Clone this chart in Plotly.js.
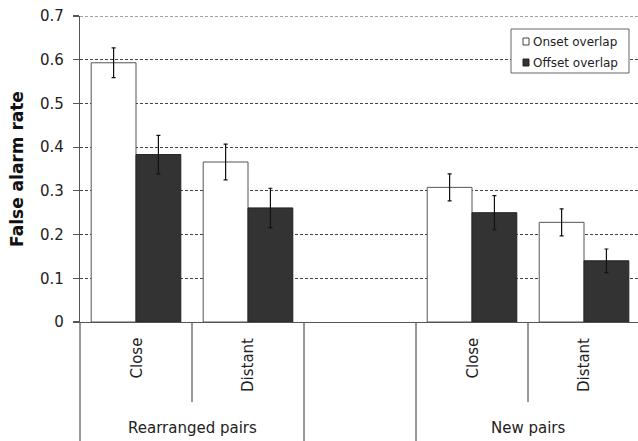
<!DOCTYPE html>
<html>
<head>
<meta charset="utf-8">
<script src="https://cdn.plot.ly/plotly-3.0.1.min.js"></script>
<style>html,body{margin:0;padding:0;background:#fff;}#chart{width:638px;height:441px;}</style>
</head>
<body>
<div id="chart"></div>
<script>
// ---- data ----
const slotKeys = ["R-Close", "R-Distant", "gap", "N-Close", "N-Distant"];
const barKeys = ["R-Close", "R-Distant", "N-Close", "N-Distant"];
const innerLabels = ["Close", "Distant", "Close", "Distant"];
const groupLabels = ["Rearranged pairs", "New pairs"];
const seriesNames = ["Onset overlap", "Offset overlap"];
const onsetValues = [0.593, 0.366, 0.308, 0.228];
const onsetErrors = [0.034, 0.041, 0.031, 0.031];
const offsetValues = [0.383, 0.261, 0.250, 0.140];
const offsetErrors = [0.044, 0.045, 0.039, 0.027];
const yTickValues = [0, 0.1, 0.2, 0.3, 0.4, 0.5, 0.6, 0.7];
const yTickLabels = ["0", "0.1", "0.2", "0.3", "0.4", "0.5", "0.6", "0.7"];

const FONT = "DejaVu Sans, Verdana, sans-serif";
const TXT = "#222";
const GRID = {color: "#444", width: 1, dash: "3px,2px"};

const traces = [
  {
    type: "bar", name: seriesNames[0], x: barKeys, y: onsetValues,
    marker: {color: "#ffffff", line: {color: "#555555", width: 1}},
    error_y: {type: "data", array: onsetErrors, visible: true, color: "#111", thickness: 1.2, width: 2}
  },
  {
    type: "bar", name: seriesNames[1], x: barKeys, y: offsetValues,
    marker: {color: "#333333", line: {color: "#222222", width: 1}},
    error_y: {type: "data", array: offsetErrors, visible: true, color: "#111", thickness: 1.2, width: 2}
  }
];

// plot area geometry helpers (paper coords)
const L = 80, T = 16, W = 558, H = 306;
const px = v => (v - L) / W;
const py = v => (T + H - v) / H;

const shapes = [];
const annotations = [];

// top gridline (Plotly drops gridlines at the range edge)
shapes.push({type: "line", xref: "paper", yref: "y", x0: 0, x1: 1, y0: yTickValues[yTickValues.length - 1], y1: yTickValues[yTickValues.length - 1], line: GRID, layer: "below"});

// y axis line extension at left edge
shapes.push({type: "line", xref: "paper", yref: "paper", x0: 0, x1: 0, y0: 0, y1: py(445), line: {color: "#555", width: 1.2}});
const dividerLong = [1.5, 2.5];
const dividerShort = [0.5, 3.5];
dividerLong.forEach(d => shapes.push({type: "line", xref: "x", yref: "paper", x0: d, x1: d, y0: 0, y1: py(445), line: {color: "#555", width: 1.2}}));
dividerShort.forEach(d => shapes.push({type: "line", xref: "x", yref: "paper", x0: d, x1: d, y0: 0, y1: py(402), line: {color: "#555", width: 1.2}}));

// inner labels
barKeys.forEach((k, i) => annotations.push({
  xref: "x", yref: "paper", x: k, y: 0, yshift: -14, yanchor: "top", xanchor: "center",
  text: innerLabels[i], textangle: -90, showarrow: false,
  font: {family: FONT, size: 15, color: TXT}
}));
// group labels
const groupCenters = [0.5, 3.5];
groupLabels.forEach((g, i) => annotations.push({
  xref: "x", yref: "paper", x: groupCenters[i], y: py(428), yanchor: "middle", xanchor: "center",
  text: g, showarrow: false, font: {family: FONT, size: 15, color: TXT}
}));

// custom legend
shapes.push({type: "rect", xref: "paper", yref: "paper", x0: px(511), x1: px(629), y0: py(73), y1: py(29),
  fillcolor: "#ffffff", line: {color: "#666", width: 1}, layer: "above"});
shapes.push({type: "rect", xref: "paper", yref: "paper", x0: px(523), x1: px(529), y0: py(45), y1: py(38),
  fillcolor: "#ffffff", line: {color: "#444", width: 1}, layer: "above"});
shapes.push({type: "rect", xref: "paper", yref: "paper", x0: px(523), x1: px(529), y0: py(66), y1: py(59),
  fillcolor: "#333333", line: {color: "#222", width: 1}, layer: "above"});
annotations.push({xref: "paper", yref: "paper", x: px(531), y: py(42), xanchor: "left", yanchor: "middle",
  text: seriesNames[0], showarrow: false, font: {family: FONT, size: 12, color: TXT}});
annotations.push({xref: "paper", yref: "paper", x: px(531), y: py(63), xanchor: "left", yanchor: "middle",
  text: seriesNames[1], showarrow: false, font: {family: FONT, size: 12, color: TXT}});

const layout = {
  width: 638, height: 441,
  margin: {l: 80, r: 0, t: 16, b: 119, pad: 0},
  paper_bgcolor: "#ffffff", plot_bgcolor: "#ffffff",
  showlegend: false,
  barmode: "group", bargap: 0.2, bargroupgap: 0,
  font: {family: FONT, size: 15, color: TXT},
  xaxis: {
    type: "category", categoryorder: "array", categoryarray: slotKeys,
    range: [-0.5, 4.482], showticklabels: false, ticks: "",
    showgrid: false, zeroline: false, showline: true, linecolor: "#555", linewidth: 1.2,
    fixedrange: true
  },
  yaxis: {
    range: [0, 0.7], tickvals: yTickValues, ticktext: yTickLabels,
    ticks: "outside", ticklen: 6, tickcolor: "#555", tickwidth: 1.2,
    ticklabelstandoff: 6,
    showline: true, linecolor: "#555", linewidth: 1.2,
    showgrid: true, gridcolor: GRID.color, griddash: GRID.dash, gridwidth: GRID.width,
    zeroline: false,
    tickfont: {family: FONT, size: 15, color: TXT},
    title: {text: "False alarm rate", font: {family: FONT, size: 17, color: "#111", weight: "bold"}, standoff: 12},
    automargin: false, fixedrange: true
  },
  shapes: shapes,
  annotations: annotations
};

Plotly.newPlot("chart", traces, layout, {displayModeBar: false, staticPlot: true});
</script>
</body>
</html>
